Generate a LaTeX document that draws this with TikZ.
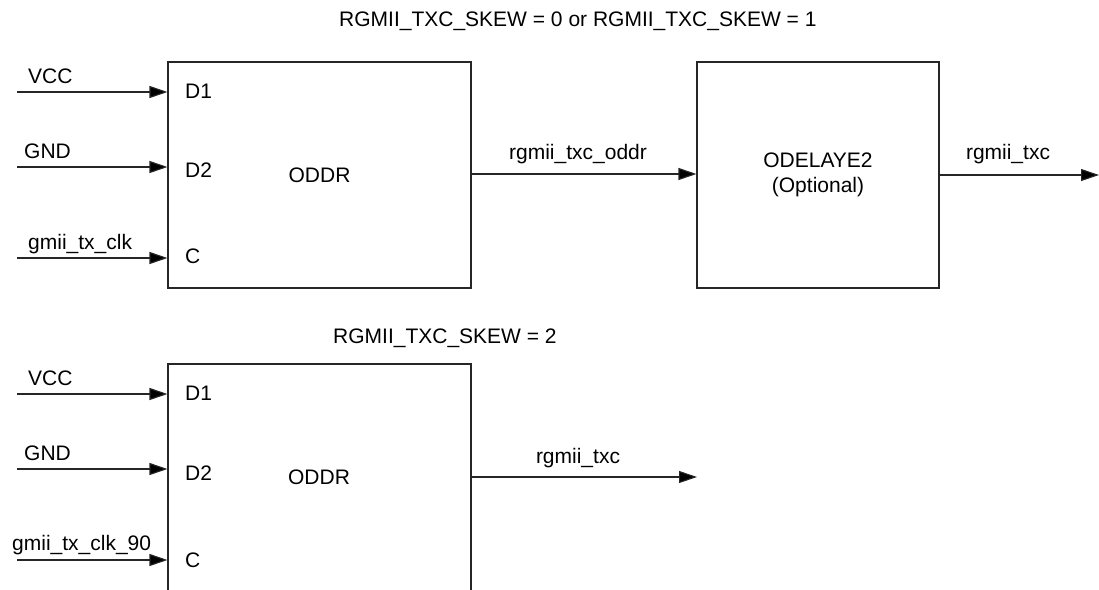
\documentclass[tikz,border=0pt]{standalone}
\usepackage{fontspec}
\setmainfont{Liberation Sans}
\usetikzlibrary{arrows.meta}
\begin{document}
\begin{tikzpicture}[x=1pt,y=-1pt,
  blk/.style={draw=black!85, line width=1.1pt, inner sep=0pt, font=\fontsize{21}{25}\selectfont, align=center},
  sig/.style={draw=black!85, line width=1.1pt, -{Triangle[length=18pt,width=12pt,fill=black]}},
  lbl/.style={inner sep=0pt, font=\fontsize{21}{24}\selectfont, anchor=base west},
  lblc/.style={inner sep=0pt, font=\fontsize{21}{24}\selectfont, anchor=base}]
\useasboundingbox (0,0) rectangle (1099,589);
\clip (0,0) rectangle (1099,589);

% ---------- upper part ----------
\node[lbl] (title1) at (339,27) {RGMII\_TXC\_SKEW = 0 or RGMII\_TXC\_SKEW = 1};
\node[blk, minimum width=303pt, minimum height=226pt] (oddr1) at (319.5,175) {ODDR};
\node[blk, minimum width=242pt, minimum height=226pt] (odly) at (818,175) {ODELAYE2\\(Optional)};

\coordinate (vccA) at (17,92);
\coordinate (gndA) at (17,167);
\coordinate (clkA) at (17,258);
\coordinate (outA) at (1099,175);

\draw[sig] (vccA) -- (oddr1.west |- vccA);
\draw[sig] (gndA) -- (oddr1.west |- gndA);
\draw[sig] (clkA) -- (oddr1.west |- clkA);
\draw[sig] (oddr1.east |- 0,174) -- (odly.west |- 0,174);
\draw[sig] (odly.east |- outA) -- (outA);

\node[lbl] (vccAl) at (28,83) {VCC};
\node[lbl] (gndAl) at (24,158) {GND};
\node[lbl] (clkAl) at (28,249) {gmii\_tx\_clk};
\node[lbl] (d1A) at (185,98) {D1};
\node[lbl] (d2A) at (185,177) {D2};
\node[lbl] (cA) at (185,263) {C};
\node[lblc] (oddrl) at (578,159) {rgmii\_txc\_oddr};
\node[lblc] (txcA) at (1008,159) {rgmii\_txc};

% ---------- lower part ----------
\node[lbl] (title2) at (333,343) {RGMII\_TXC\_SKEW = 2};
\node[blk, minimum width=303pt, minimum height=260pt] (oddr2) at (319.5,494) {};
\node[lblc] (oddr2l) at (319,484) {ODDR};

\coordinate (vccB) at (17,394);
\coordinate (gndB) at (17,469);
\coordinate (clkB) at (17,560);
\coordinate (outB) at (697,477);

\draw[sig] (vccB) -- (oddr2.west |- vccB);
\draw[sig] (gndB) -- (oddr2.west |- gndB);
\draw[sig] (clkB) -- (oddr2.west |- clkB);
\draw[sig] (oddr2.east |- outB) -- (outB);

\node[lbl] (vccBl) at (28,385) {VCC};
\node[lbl] (gndBl) at (24,460) {GND};
\node[lbl] (clkBl) at (12,550) {gmii\_tx\_clk\_90};
\node[lbl] (d1B) at (185,400) {D1};
\node[lbl] (d2B) at (185,480) {D2};
\node[lbl] (cB) at (185,567) {C};
\node[lblc] (txcB) at (578,463) {rgmii\_txc};
\end{tikzpicture}
\end{document}
